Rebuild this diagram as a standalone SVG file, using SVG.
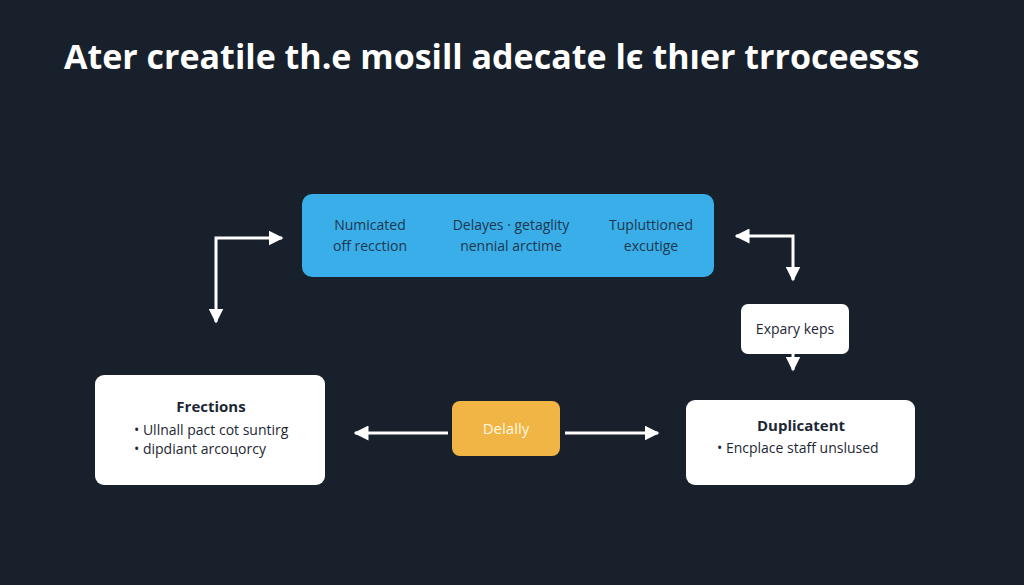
<svg xmlns="http://www.w3.org/2000/svg" width="1024" height="585" viewBox="0 0 1024 585">
<style>
.t{font-family:"Open Sans","Liberation Sans",sans-serif}
.w{fill:#ffffff;stroke:none}
.c{stroke:#ffffff;stroke-width:3;fill:none}
.b{font-size:14px;fill:#1d2733}
.h{font-size:15px;font-weight:bold;fill:#1d2733}
</style>
<defs>
<marker id="a" viewBox="0 0 10 10" refX="9" refY="5" markerWidth="5" markerHeight="5" orient="auto-start-reverse" markerUnits="strokeWidth"><path d="M0,0L10,5L0,10z" fill="#fff"/></marker>
</defs>
<rect width="1024" height="585" fill="#18202b"/>
<text class="t" x="64" y="69" font-size="34" font-weight="bold" fill="#fff">Ater creatile th.e mosill adecate lє thıer trroceesss</text>
<g id="connectors">
<path class="c" d="M216,322V238H282" marker-start="url(#a)" marker-end="url(#a)"/>
<path class="c" d="M736,236H793V280" marker-start="url(#a)" marker-end="url(#a)"/>
<path class="c" d="M793,354V370" marker-end="url(#a)"/>
<path class="c" d="M448,433H355" marker-end="url(#a)"/>
<path class="c" d="M565,433H658" marker-end="url(#a)"/>
</g>
<g id="top">
<rect x="302" y="194" width="412" height="83" rx="10" fill="#3aaee8"/>
<g class="t" font-size="14" fill="#1d3850" text-anchor="middle">
<text x="370" y="230">Numicated</text><text x="370" y="251">off recction</text>
<text x="511" y="230">Delayes · getaglity</text><text x="511" y="251">nennial arctime</text>
<text x="651" y="230">Tupluttioned</text><text x="651" y="251">excutige</text>
</g>
</g>
<g id="expary">
<rect x="741" y="304" width="108" height="50" rx="7" class="w"/>
<text class="t b" x="795" y="334" text-anchor="middle">Expary keps</text>
</g>
<g id="fractions">
<rect x="95" y="375" width="230" height="110" rx="9" class="w"/>
<text class="t h" x="211" y="412" text-anchor="middle">Frections</text>
<text class="t b" x="134" y="435">• Ullnall pact cot suntirg</text>
<text class="t b" x="134" y="454">• dipdiant arcoцorcy</text>
</g>
<g id="delally">
<rect x="452" y="401" width="108" height="55" rx="8" fill="#f0b545"/>
<text class="t" x="506" y="434" font-size="15" fill="#fff8e0" text-anchor="middle">Delally</text>
</g>
<g id="duplicatent">
<rect x="686" y="400" width="229" height="85" rx="9" class="w"/>
<text class="t h" x="801" y="431" text-anchor="middle">Duplicatent</text>
<text class="t b" x="717" y="453">• Encplace staff unslused</text>
</g>
</svg>
